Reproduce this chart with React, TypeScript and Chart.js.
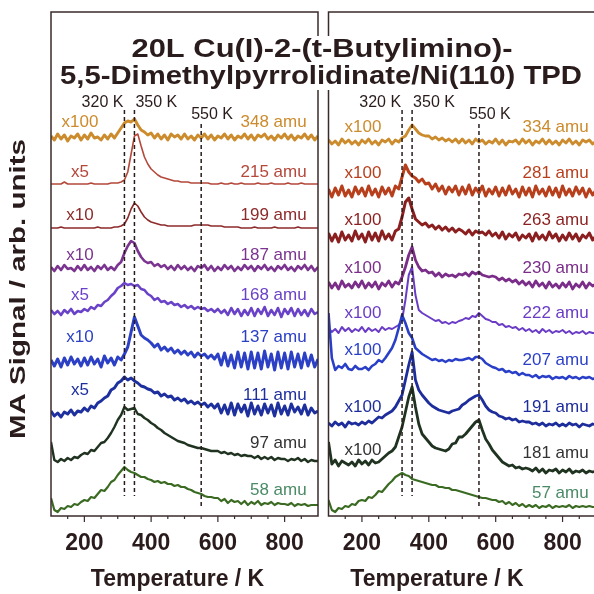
import React, { useEffect, useRef } from 'react';
import { Chart, registerables } from 'chart.js';
Chart.register(...registerables);

// ---------- DATA ----------
const TEMPERATURE_K = [
  100, 110, 120, 130, 140, 150, 160, 170, 180, 190,
  200, 210, 220, 230, 240, 250, 260, 270, 280, 290,
  300, 310, 320, 330, 340, 350, 360, 370, 380, 390,
  400, 410, 420, 430, 440, 450, 460, 470, 480, 490,
  500, 510, 520, 530, 540, 550, 560, 570, 580, 590,
  600, 610, 620, 630, 640, 650, 660, 670, 680, 690,
  700, 710, 720, 730, 740, 750, 760, 770, 780, 790,
  800, 810, 820, 830, 840, 850, 860, 870, 880, 890, 900];

const X_TICKS = [200, 400, 600, 800];
const X_MINOR_TICKS = [150, 200, 250, 300, 350, 400, 450, 500, 550, 600, 650, 700, 750, 800, 850];
const MARKER_TEMPS = [320, 350, 550];
const MARKER_LABELS = ['320 K', '350 K', '550 K'];

// left panel signals (relative to each trace's baseline)
const L_348 = [1, -3, 3, -2, 2, -4, 1, -1, 3, -3, 2, -2, 4, -1, 0, -3, 2, -2, 3, -1,
  4, 9, 14, 16, 15, 18, 12, 7, 5, 2, 4, -1, 3, -2, 2, -3, 3, 0, 2, -2,
  3, -2, 1, -3, 2, -1, 3, -2, 2, -3, 1, -1, 3, -2, 2, -3, 1, -1, 3, -2,
  2, -3, 2, 0, 3, -2, 1, -3, 2, -1, 3, -2, 2, -3, 1, -1, 3, -2, 2, -3, 1];
const L_215 = [0, 0, 0, 0, 2, 0, 0, 0, 0, 0, 0, 0, 1, 0, 0, 0, 0, 0, 1, 1,
  1, 2, 4, 12, 30, 48, 50, 38, 27, 20, 15, 12, 9, 7, 6, 5, 4, 3, 3, 2,
  2, 2, 1, 1, 1, 1, 1, 1, 0, 0, 0, 1, 0, 0, 1, 0, 0, 1, 0, 0,
  0, 0, 1, 0, 0, 0, 1, 0, 0, 0, 0, 1, 0, 0, 0, 1, 0, 0, 0, 0, 0];
const L_199 = [0, 0, 0, 1, 0, 0, 0, 0, 0, 0, 0, 0, 0, 0, 1, 0, 0, 0, 0, 1,
  1, 2, 4, 10, 19, 25, 22, 16, 11, 8, 6, 5, 4, 3, 3, 2, 2, 2, 2, 2,
  2, 2, 2, 3, 3, 3, 3, 3, 2, 2, 2, 2, 1, 1, 1, 1, 1, 0, 0, 0,
  0, 1, 0, 0, 0, 0, 0, 1, 0, 0, 0, 0, 0, 0, 1, 0, 0, 0, 0, 0, 0];
const L_187 = [1, -3, 2, -2, 3, -1, 0, -3, 2, -2, 3, -2, 1, -3, 2, -1, 3, -2, 1, -2,
  3, 6, 15, 22, 27, 25, 17, 11, 7, 5, 6, 2, 4, 1, 3, -1, 2, -2, 3, -1,
  2, -2, 1, -3, 2, 0, 3, -2, 2, -3, 1, -2, 3, -1, 2, -3, 1, -2, 3, -1,
  2, -3, 2, -1, 3, -2, 1, -3, 2, -1, 3, -2, 1, -3, 2, -1, 3, -2, 2, -3, 1];
const L_168 = [2, -2, 1, -3, 2, -1, 3, -2, 1, 0, 3, 1, 5, 3, 7, 6, 10, 12, 16, 19,
  24, 26, 29, 27, 28, 26, 27, 23, 22, 18, 16, 12, 14, 10, 11, 8, 10, 7, 8, 5,
  7, 4, 6, 3, 5, 3, 4, 1, 3, 0, 3, -1, 2, -3, 4, -2, 3, -4, 2, -3,
  4, -4, 3, -2, 5, -4, 2, -3, 4, -5, 3, -2, 4, -4, 3, -3, 2, -4, 3, -2, 0];
const L_137 = [2, -4, 3, -5, 4, -3, 5, -2, 3, -4, 4, -3, 5, -2, 3, -5, 6, -1, 4, -3,
  5, 2, 8, 15, 30, 45, 36, 27, 24, 22, 19, 15, 18, 12, 15, 11, 14, 9, 12, 8,
  11, 7, 10, 5, 9, 6, 8, 4, 7, 3, 8, -3, 9, -4, 7, -6, 10, -5, 9, -7,
  10, -6, 9, -7, 11, -5, 8, -8, 10, -6, 9, -7, 10, -5, 8, -6, 9, -4, 7, -5, 3];
const L_111 = [3, -2, 1, -3, 2, 0, 4, -1, 3, 2, 6, 3, 8, 6, 11, 13, 16, 18, 24, 26,
  31, 33, 37, 34, 36, 33, 31, 28, 27, 25, 24, 21, 22, 18, 20, 17, 18, 14, 16, 13,
  15, 11, 13, 10, 12, 9, 11, 7, 10, 6, 10, 1, 9, 0, 11, -1, 10, 2, 9, -2,
  11, 0, 8, -1, 10, 1, 9, -2, 11, 0, 8, -1, 10, 2, 7, 0, 9, -1, 6, 1, 3];
const L_97 = [20, 2, 0, 3, 1, 4, 2, 5, 4, 7, 9, 8, 12, 11, 15, 19, 20, 24, 29, 35,
  42, 47, 55, 52, 53, 54, 48, 47, 44, 42, 39, 37, 34, 32, 29, 27, 25, 23, 21, 20,
  19, 17, 16, 15, 14, 14, 13, 12, 11, 11, 11, 9, 10, 8, 9, 7, 8, 6, 7, 6,
  6, 4, 6, 3, 5, 3, 5, 2, 4, 3, 3, 1, 3, 2, 4, 1, 3, 0, 2, 1, 1];
const L_58 = [12, 0, -2, 2, 1, 4, 3, 6, 5, 8, 10, 9, 13, 12, 16, 20, 19, 23, 28, 30,
  35, 39, 43, 40, 38, 37, 35, 33, 33, 31, 30, 28, 29, 27, 28, 26, 26, 24, 25, 23,
  23, 21, 20, 18, 17, 16, 14, 13, 13, 12, 12, 9, 11, 7, 10, 8, 9, 6, 9, 5,
  8, 6, 9, 5, 7, 6, 8, 5, 7, 6, 6, 5, 7, 4, 6, 5, 6, 4, 5, 5, 5];

// right panel signals
const R_334 = [2, -2, 1, -3, 3, -1, 2, -2, 1, -3, 2, -1, 3, -2, 1, -3, 2, 0, 3, -2,
  2, 0, 4, 6, 12, 17, 13, 9, 7, 6, 6, 3, 5, 2, 4, 1, 3, 0, 3, -1,
  3, -1, 2, -2, 3, 0, 2, -2, 1, -1, 3, -2, 2, -3, 1, 0, 2, -2, 3, -1,
  2, -3, 1, -1, 3, -2, 2, -2, 1, -3, 2, -1, 3, -2, 1, -3, 2, 0, 2, -2, 1];
const R_281 = [3, -5, 4, -3, 6, -4, 2, -5, 5, -2, 4, -4, 6, -3, 3, -5, 5, -2, 4, -4,
  6, 3, 15, 27, 20, 16, 14, 10, 13, 8, 9, 3, 8, 1, 6, -2, 5, 0, 6, -3,
  5, -2, 7, -3, 4, -1, 6, -4, 3, -2, 5, -4, 4, -3, 6, -2, 3, -5, 5, -3,
  4, -5, 6, -2, 3, -4, 5, -3, 4, -5, 6, -3, 3, -4, 5, -2, 4, -5, 3, -3, 2];
const R_263 = [4, -4, 3, -5, 5, -3, 2, -4, 6, -2, 3, -5, 5, -3, 4, -4, 6, -2, 3, -3,
  6, 8, 20, 35, 39, 28, 18, 15, 12, 14, 10, 12, 8, 11, 7, 10, 6, 9, 5, 8,
  6, 3, 7, 2, 6, 4, 5, 2, 6, 1, 4, -1, 5, -2, 3, 0, 4, -3, 2, -1,
  3, -4, 4, -2, 2, -3, 5, -1, 3, -4, 2, -3, 4, -2, 3, -4, 2, -1, 4, -3, 1];
const R_230 = [3, -3, 2, -4, 4, -2, 1, -3, 3, -2, 4, -3, 2, -2, 3, -4, 2, -1, 4, -2,
  3, 1, 8, 18, 30, 38, 25, 18, 14, 15, 12, 13, 9, 12, 8, 11, 9, 10, 8, 11,
  10, 12, 9, 13, 11, 13, 10, 9, 8, 9, 8, 5, 7, 4, 6, 3, 5, 1, 4, 0,
  3, -2, 4, -1, 2, -3, 3, -2, 1, -3, 2, -2, 3, -4, 1, -2, 3, -3, 2, -1, 1];
const R_222 = [2, -2, 1, -3, 3, -1, 2, -2, 1, -1, 3, -2, 2, -1, 1, -2, 3, 0, 2, 1,
  3, 5, 10, 30, 55, 63, 35, 20, 17, 15, 13, 11, 9, 10, 7, 8, 6, 8, 7, 9,
  10, 12, 11, 14, 13, 17, 14, 11, 10, 8, 8, 5, 6, 3, 4, 2, 3, 0, 2, -1,
  1, -2, 0, -3, 1, -2, 0, -3, -1, -2, 0, -3, -1, -4, -2, -3, -1, -4, -2, -3, -3];
const R_207 = [65, 20, 8, 12, 10, 14, 9, 8, 12, 9, 9, 11, 8, 12, 14, 18, 16, 20, 25, 30,
  38, 50, 63, 55, 45, 40, 30, 27, 24, 22, 20, 18, 19, 17, 18, 16, 18, 17, 19, 18,
  18, 19, 20, 18, 21, 21, 19, 15, 13, 11, 10, 8, 9, 6, 7, 5, 6, 3, 5, 3,
  3, 1, 3, 0, 2, 1, 2, -1, 1, 0, 1, -1, 2, 0, 1, -1, 1, 0, 1, -1, 0];
const R_191 = [2, -1, 3, 0, 2, -2, 3, 1, 2, 0, 3, 1, 4, 2, 5, 8, 7, 10, 12, 14,
  18, 24, 30, 45, 60, 73, 45, 35, 30, 26, 22, 19, 17, 15, 14, 13, 12, 14, 15, 16,
  20, 22, 25, 27, 29, 30, 25, 19, 15, 13, 12, 9, 8, 6, 7, 5, 6, 3, 4, 3,
  3, 1, 2, 0, 2, -1, 1, 0, 2, -1, 1, -1, 2, 0, 1, -2, 1, 0, -1, 1, 0];
const R_181 = [30, 8, 12, 6, 11, 9, 7, 10, 6, 12, 8, 11, 7, 12, 9, 10, 13, 16, 19, 21,
  25, 35, 45, 60, 75, 85, 65, 48, 38, 34, 30, 26, 24, 23, 22, 21, 23, 28, 29, 35,
  35, 38, 42, 46, 50, 52, 42, 33, 28, 22, 18, 14, 10, 8, 6, 7, 4, 5, 3, 4,
  3, 1, 4, 0, 3, -1, 2, 1, 3, -1, 2, 0, 3, -1, 1, 0, 2, -1, 1, 0, 1];
const R_57 = [10, 0, -2, 2, 1, 4, 3, 6, 5, 9, 10, 9, 13, 12, 15, 19, 18, 22, 26, 29,
  33, 35, 37, 35, 34, 31, 30, 29, 28, 27, 26, 25, 25, 23, 23, 22, 22, 20, 20, 19,
  18, 17, 16, 15, 14, 13, 12, 12, 11, 10, 10, 8, 9, 6, 8, 5, 7, 4, 6, 3,
  5, 3, 5, 2, 4, 3, 5, 2, 4, 3, 4, 3, 5, 2, 4, 3, 4, 3, 4, 3, 3];

const LEFT_SIGNALS = [L_348, L_215, L_199, L_187, L_168, L_137, L_111, L_97, L_58];
const RIGHT_SIGNALS = [R_334, R_281, R_263, R_230, R_222, R_207, R_191, R_181, R_57];
const LEFT_MASSES = ['348 amu', '215 amu', '199 amu', '187 amu', '168 amu', '137 amu', '111 amu', '97 amu', '58 amu'];
const RIGHT_MASSES = ['334 amu', '281 amu', '263 amu', '230 amu', '222 amu', '207 amu', '191 amu', '181 amu', '57 amu'];
const LEFT_FACTORS = ['x100', 'x5', 'x10', 'x10', 'x5', 'x10', 'x5', '', ''];
const RIGHT_FACTORS = ['x100', 'x100', 'x100', 'x100', 'x100', 'x100', 'x100', 'x100', ''];
// stacking offsets (arb. units)
const LEFT_OFFSETS = [379, 332, 288, 248, 204, 154, 102, 54, 6];
const RIGHT_OFFSETS = [374, 324, 279, 231, 186, 138, 91, 44, 6];

// ---------- STYLE / LAYOUT ----------
const LEFT_COLORS = ['#cc8b2c', '#b4483b', '#8d2b2b', '#7b3490', '#6a42c8', '#2c40c6', '#1e2f9e', '#1f3320', '#3b6b22'];
const RIGHT_COLORS = ['#cc8b2c', '#b83f1c', '#8b1e1e', '#7b2d8a', '#6a3cc6', '#2a3fc8', '#1e2d9c', '#1f3320', '#3b6b22'];
const LEFT_TEXT_COLORS = ['#cc8b2c', '#b4483b', '#8d2b2b', '#7b3490', '#6a42c8', '#2c40c6', '#1e2f9e', '#333333', '#4a8a66'];
const RIGHT_TEXT_COLORS = ['#cc8b2c', '#b83f1c', '#8b1e1e', '#7b2d8a', '#6a3cc6', '#2a3fc8', '#1e2d9c', '#333333', '#4a8a66'];
const LEFT_WIDTHS = [3, 1.6, 1.6, 2.6, 2.6, 3, 3, 2.4, 2.2];
const RIGHT_WIDTHS = [2.8, 3, 3, 2.8, 2, 2.6, 2.8, 2.8, 2.2];
const LEFT_FACTOR_LIFT = [15, 12, 13, 13, 17, 25, 24, 0, 0];
const LEFT_MASS_LIFT = [15, 12, 13, 13, 17, 25, 19, 19, 20];
const RIGHT_FACTOR_LIFT = [15, 19, 17, 17, 17, 28, 18, 22, 0];
const RIGHT_MASS_LIFT = [15, 19, 17, 17, 17, 18, 18, 19, 17];

const INK = '#2a1c1c';
const FONT = '"Liberation Sans", Arial, Helvetica, sans-serif';

type Panel = {
  signals: number[][]; offsets: number[]; colors: string[]; textColors: string[]; widths: number[];
  masses: string[]; factors: string[]; factorLift: number[]; massLift: number[];
  factorT: number; massT: number; axisTitleX: number;
};

function decorPlugin(p: Panel) {
  return {
    id: 'decor',
    afterDatasetsDraw(chart: any) {
      const { ctx, chartArea: a, scales } = chart;
      const xs = scales.x, ys = scales.y;
      ctx.save();
      // dashed marker lines
      ctx.setLineDash([4, 3]);
      ctx.lineWidth = 1.5;
      ctx.strokeStyle = INK;
      const tops = [406, 406, 392];
      const bottoms = [20, 20, 9];
      MARKER_TEMPS.forEach((t, k) => {
        const x = xs.getPixelForValue(t);
        ctx.beginPath();
        ctx.moveTo(x, ys.getPixelForValue(tops[k]));
        ctx.lineTo(x, ys.getPixelForValue(bottoms[k]));
        ctx.stroke();
      });
      ctx.setLineDash([]);
      // marker labels
      ctx.fillStyle = INK;
      ctx.font = `16px ${FONT}`;
      ctx.textBaseline = 'middle';
      MARKER_TEMPS.forEach((t, k) => {
        const x = xs.getPixelForValue(t);
        if (k === 0) { ctx.textAlign = 'right'; ctx.fillText(MARKER_LABELS[k], x - 1, ys.getPixelForValue(413)); }
        else if (k === 1) { ctx.textAlign = 'left'; ctx.fillText(MARKER_LABELS[k], x + 1, ys.getPixelForValue(413)); }
        else { ctx.textAlign = 'left'; ctx.fillText(MARKER_LABELS[k], x - 10, ys.getPixelForValue(401)); }
      });
      // trace labels
      ctx.font = `17px ${FONT}`;
      p.signals.forEach((_, i) => {
        ctx.fillStyle = p.textColors[i];
        if (p.factors[i]) {
          ctx.textAlign = 'center';
          ctx.fillText(p.factors[i], xs.getPixelForValue(p.factorT), ys.getPixelForValue(p.offsets[i] + p.factorLift[i]));
        }
        ctx.textAlign = 'right';
        ctx.fillText(p.masses[i], xs.getPixelForValue(p.massT), ys.getPixelForValue(p.offsets[i] + p.massLift[i]));
      });
      // frame
      ctx.strokeStyle = '#3a2a2a';
      ctx.lineWidth = 1.5;
      ctx.strokeRect(a.left, a.top, a.right - a.left, a.bottom - a.top);
      // ticks
      ctx.lineWidth = 1.2;
      X_MINOR_TICKS.forEach((t) => {
        const x = xs.getPixelForValue(t);
        const len = X_TICKS.includes(t) ? 6 : 3;
        ctx.beginPath();
        ctx.moveTo(x, a.bottom);
        ctx.lineTo(x, a.bottom + len);
        ctx.stroke();
      });
      // tick labels
      ctx.fillStyle = INK;
      ctx.font = `bold 23px ${FONT}`;
      ctx.textAlign = 'center';
      ctx.textBaseline = 'middle';
      X_TICKS.forEach((t) => ctx.fillText(String(t), xs.getPixelForValue(t), a.bottom + 28));
      // axis title
      ctx.fillText('Temperature / K', a.left + p.axisTitleX, a.bottom + 64);
      ctx.restore();
    },
  };
}

function makeChart(canvas: HTMLCanvasElement, p: Panel, padding: any) {
  const n = p.signals.length;
  const datasets = p.signals.map((sig, i) => ({
    data: TEMPERATURE_K.map((t, k) => ({ x: t, y: p.offsets[i] + sig[k] })),
    borderColor: p.colors[i],
    borderWidth: p.widths[i],
    borderJoinStyle: 'round',
    pointRadius: 0,
    tension: 0,
    fill: false,
    order: n - i,
  }));
  return new Chart(canvas, {
    type: 'line',
    data: { datasets },
    options: {
      responsive: false,
      animation: false,
      events: [],
      layout: { padding },
      scales: {
        x: { type: 'linear', min: 100, max: 900, display: false },
        y: { min: 0, max: 504, display: false },
      },
      plugins: { legend: { display: false }, tooltip: { enabled: false } },
    },
    plugins: [decorPlugin(p)],
  } as any);
}

function drawOverlay(c: HTMLCanvasElement) {
  const ctx = c.getContext('2d')!;
  ctx.clearRect(0, 0, c.width, c.height);
  const lines = [
    { text: '20L Cu(I)-2-(t-Butylimino)-', cx: 322, base: 57, w: 381 },
    { text: '5,5-Dimethylpyrrolidinate/Ni(110) TPD', cx: 321, base: 84, w: 522 },
  ];
  ctx.font = `bold 26px ${FONT}`;
  lines.forEach((l) => {
    const m = ctx.measureText(l.text).width;
    const s = l.w / m;
    ctx.save();
    ctx.translate(l.cx, l.base);
    ctx.scale(s, 1);
    ctx.fillStyle = '#fff';
    ctx.fillRect(-m / 2 - 2, -21, m + 4, 27);
    ctx.fillStyle = INK;
    ctx.textAlign = 'center';
    ctx.textBaseline = 'alphabetic';
    ctx.fillText(l.text, 0, 0);
    ctx.restore();
  });
  // y axis title
  const yt = 'MA Signal / arb. units';
  ctx.font = `bold 22px ${FONT}`;
  const m = ctx.measureText(yt).width;
  ctx.save();
  ctx.translate(19, 289);
  ctx.rotate(-Math.PI / 2);
  ctx.scale(300 / m, 1);
  ctx.fillStyle = INK;
  ctx.textAlign = 'center';
  ctx.textBaseline = 'middle';
  ctx.fillText(yt, 0, 0);
  ctx.restore();
}

export default function App() {
  const leftRef = useRef<HTMLCanvasElement>(null);
  const rightRef = useRef<HTMLCanvasElement>(null);
  const overRef = useRef<HTMLCanvasElement>(null);

  useEffect(() => {
    const left = makeChart(leftRef.current!, {
      signals: LEFT_SIGNALS, offsets: LEFT_OFFSETS, colors: LEFT_COLORS, textColors: LEFT_TEXT_COLORS,
      widths: LEFT_WIDTHS, masses: LEFT_MASSES, factors: LEFT_FACTORS, factorLift: LEFT_FACTOR_LIFT,
      massLift: LEFT_MASS_LIFT, factorT: 187, massT: 866, axisTitleX: 126.5,
    }, { left: 51, top: 12, right: 5, bottom: 78 });
    const right = makeChart(rightRef.current!, {
      signals: RIGHT_SIGNALS, offsets: RIGHT_OFFSETS, colors: RIGHT_COLORS, textColors: RIGHT_TEXT_COLORS,
      widths: RIGHT_WIDTHS, masses: RIGHT_MASSES, factors: RIGHT_FACTORS, factorLift: RIGHT_FACTOR_LIFT,
      massLift: RIGHT_MASS_LIFT, factorT: 203, massT: 878, axisTitleX: 108.5,
    }, { left: 5.5, top: 12, right: 7, bottom: 78 });
    drawOverlay(overRef.current!);
    return () => { left.destroy(); right.destroy(); };
  }, []);

  return (
    <div style={{ position: 'absolute', left: 0, top: 0, width: 594, height: 594, overflow: 'hidden', background: '#fff' }}>
      <canvas ref={leftRef} width={323} height={594} style={{ position: 'absolute', left: 0, top: 0, width: 323, height: 594 }} />
      <div style={{ position: 'absolute', left: 323, top: 0, width: 271, height: 594, overflow: 'hidden' }}>
        <canvas ref={rightRef} width={280} height={594} style={{ position: 'absolute', left: 0, top: 0, width: 280, height: 594 }} />
      </div>
      <canvas ref={overRef} width={594} height={594} style={{ position: 'absolute', left: 0, top: 0, width: 594, height: 594, pointerEvents: 'none' }} />
    </div>
  );
}
